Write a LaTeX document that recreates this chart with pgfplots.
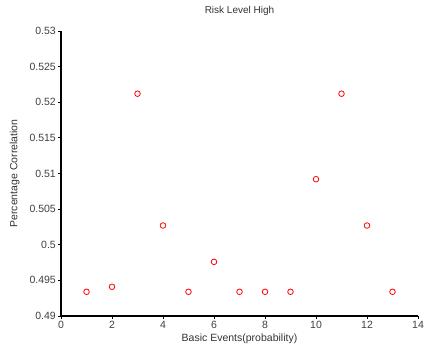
\documentclass[border=0pt]{standalone}
\usepackage{fontspec}
\setmainfont{Liberation Sans}
\usepackage{pgfplots}
\pgfplotsset{compat=1.18}
\begin{document}
\begin{tikzpicture}
\useasboundingbox (0,0) rectangle (427pt,347pt);
\begin{axis}[
  at={(61pt,31pt)}, anchor=south west,
  scale only axis, width=357pt, height=285pt,
  xmin=0, xmax=14, ymin=0.49, ymax=0.53,
  axis lines*=left,
  axis line style={black, line width=1.2pt},
  tick align=outside,
  major tick length=3pt,
  tick style={black, line width=0.8pt},
  xtick={0,2,...,14},
  ytick={0.49,0.495,0.5,0.505,0.51,0.515,0.52,0.525,0.53},
  yticklabels={0.49,0.495,0.5,0.505,0.51,0.515,0.52,0.525,0.53},
  /pgf/number format/assume math mode=true,
  ticklabel style={font=\fontsize{10.5}{12}\selectfont, text=black!75},
  xticklabel style={inner sep=2pt},
  yticklabel style={inner sep=2pt},
  title={Risk Level High},
  every axis title/.style={at={(axis description cs:0.5,1.072)}, anchor=center, font=\fontsize{10}{12}\selectfont, text=black!80},
  xlabel={Basic Events(probability)},
  ylabel={Percentage Correlation},
  every axis x label/.style={at={(axis description cs:0.5,-0.08)}, anchor=center, font=\fontsize{10.5}{12}\selectfont, text=black!80},
  every axis y label/.style={at={(axis description cs:-0.13,0.5)}, rotate=90, anchor=center, font=\fontsize{10.5}{12}\selectfont, text=black!80},
  clip=false,
]
\addplot[only marks, mark=o, red, mark size=2.8pt, line width=0.8pt] coordinates {
(1,0.4934) (2,0.4941) (3,0.5212) (4,0.5027) (5,0.4934) (6,0.4976) (7,0.4934)
(8,0.4934) (9,0.4934) (10,0.5092) (11,0.5212) (12,0.5027) (13,0.4934)
};
\end{axis}
\end{tikzpicture}
\end{document}
